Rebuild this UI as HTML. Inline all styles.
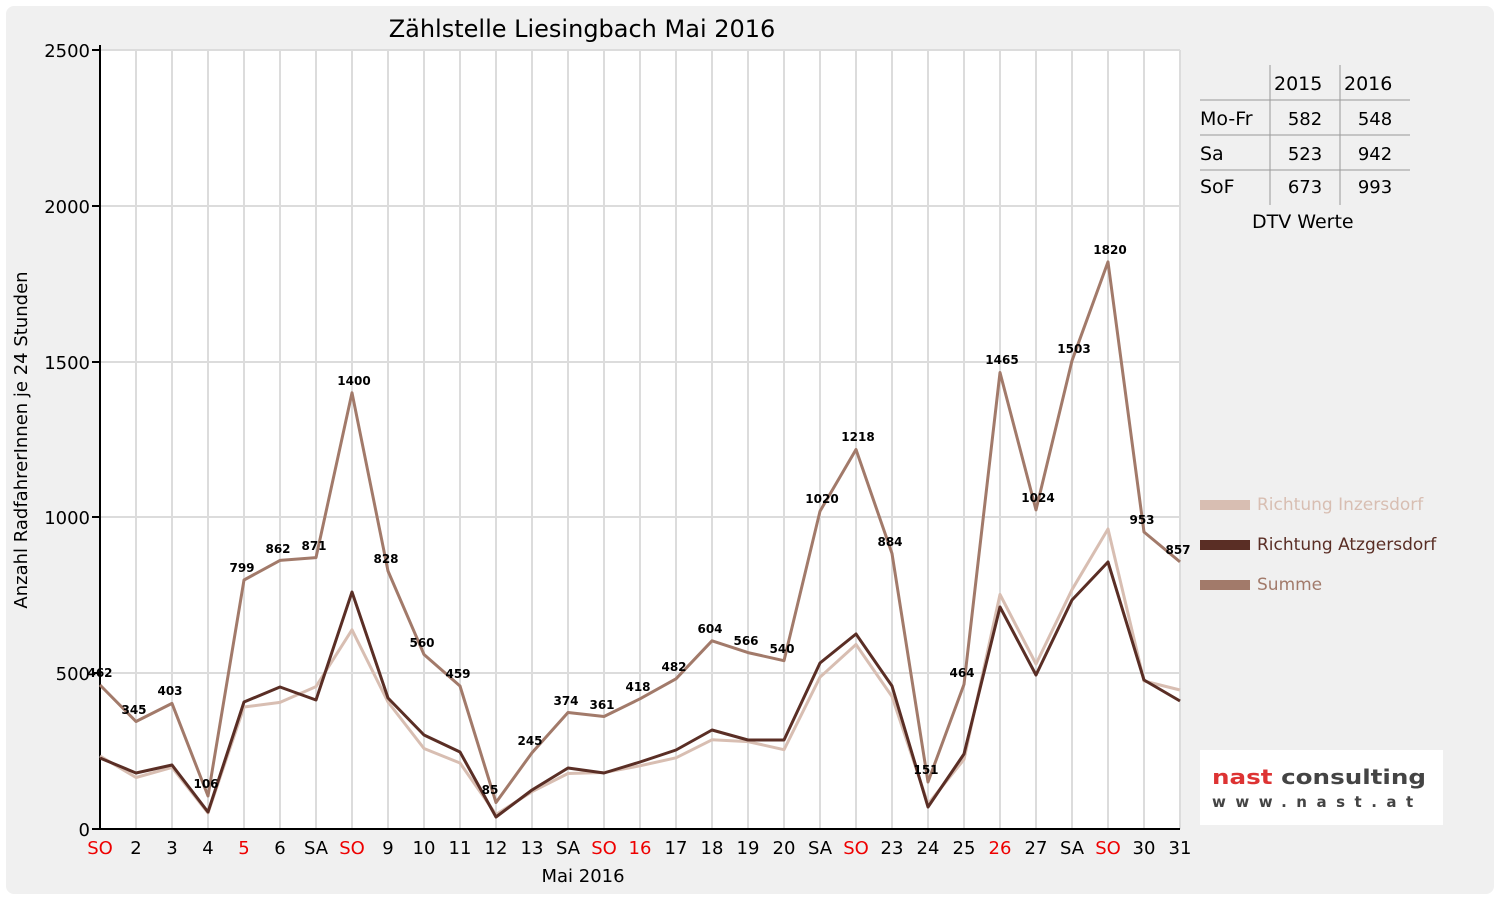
<!DOCTYPE html><html><head><meta charset="utf-8"><style>body{margin:0;background:#fff}svg{display:block}text{font-family:"DejaVu Sans","Liberation Sans",sans-serif}</style></head><body>
<svg width="1500" height="900" viewBox="0 0 1500 900" xmlns="http://www.w3.org/2000/svg">
<rect x="6" y="6" width="1488" height="888" rx="8" fill="#f0f0f0"/>
<rect x="100" y="50" width="1080" height="779" fill="#fff"/>
<g stroke="#dcdcdc" stroke-width="2">
<path d="M100 50H1180M100 206H1180M100 362H1180M100 517H1180M100 673H1180"/>
<path d="M136 50V829M172 50V829M208 50V829M244 50V829M280 50V829M316 50V829M352 50V829M388 50V829M424 50V829M460 50V829M496 50V829M532 50V829M568 50V829M604 50V829M640 50V829M676 50V829M712 50V829M748 50V829M784 50V829M820 50V829M856 50V829M892 50V829M928 50V829M964 50V829M1000 50V829M1036 50V829M1072 50V829M1108 50V829M1144 50V829M1180 50V829"/>
</g>
<g stroke="#000" stroke-width="2" fill="none"><path d="M100 45V829H1180"/>
<path d="M92 50H100M92 206H100M92 362H100M92 517H100M92 673H100M92 829H100" /></g>
<g fill="none" stroke-width="3" stroke-linejoin="round">
<polyline stroke="#d8beb2" points="100,756 136,777.5 172,767.4 208,813 244,707 280,702.4 316,686.6 352,629.8 388,702 424,748.5 460,763 496,814.5 532,791.7 568,773.5 604,772.5 640,765.8 676,757.8 712,739.8 748,741.6 784,749.7 820,677.2 856,644.5 892,696.5 928,804 964,759.4 1000,594.5 1036,664 1072,589.7 1108,529 1144,681 1180,690"/>
<polyline stroke="#5a2e25" points="100,758 136,773 172,765 208,812 244,702 280,687 316,700 352,592 388,698 424,735 460,752 496,817 532,790 568,768 604,773 640,762 676,750 712,730 748,740 784,740 820,663 856,634 892,686 928,807 964,754 1000,607 1036,675 1072,600 1108,562 1144,680 1180,701"/>
<polyline stroke="#a27a6a" points="100,685 136,721.5 172,703.4 208,796 244,580 280,560.4 316,557.6 352,392.8 388,571 424,654.5 460,686 496,802.5 532,752.7 568,712.5 604,716.5 640,698.8 676,678.8 712,640.8 748,652.6 784,660.7 820,511.2 856,449.5 892,553.5 928,782 964,684.4 1000,372.5 1036,509.9 1072,360.7 1108,261.9 1144,532 1180,561.9"/>
</g>
<g font-size="12" font-weight="bold" text-anchor="middle" fill="#000">
<text x="100" y="677">462</text><text x="134" y="714">345</text><text x="170" y="695">403</text><text x="206" y="788">106</text><text x="242" y="572">799</text><text x="278" y="553">862</text><text x="314" y="550">871</text><text x="354" y="385">1400</text><text x="386" y="563">828</text><text x="422" y="647">560</text><text x="458" y="678">459</text><text x="490" y="794">85</text><text x="530" y="745">245</text><text x="566" y="705">374</text><text x="602" y="709">361</text><text x="638" y="691">418</text><text x="674" y="671">482</text><text x="710" y="633">604</text><text x="746" y="645">566</text><text x="782" y="653">540</text><text x="822" y="503">1020</text><text x="858" y="441">1218</text><text x="890" y="546">884</text><text x="926" y="774">151</text><text x="962" y="677">464</text><text x="1002" y="364">1465</text><text x="1038" y="502">1024</text><text x="1074" y="353">1503</text><text x="1110" y="254">1820</text><text x="1142" y="524">953</text><text x="1178" y="554">857</text>
</g>
<g font-size="18" text-anchor="end" fill="#000"><text x="90" y="57">2500</text><text x="90" y="213">2000</text><text x="90" y="369">1500</text><text x="90" y="524">1000</text><text x="90" y="680">500</text><text x="90" y="836">0</text></g>
<g font-size="18" text-anchor="middle" fill="#000">
<text x="100" y="854" fill="#e00">SO</text><text x="136" y="854">2</text><text x="172" y="854">3</text><text x="208" y="854">4</text><text x="244" y="854" fill="#e00">5</text><text x="280" y="854">6</text><text x="316" y="854">SA</text><text x="352" y="854" fill="#e00">SO</text><text x="388" y="854">9</text><text x="424" y="854">10</text><text x="460" y="854">11</text><text x="496" y="854">12</text><text x="532" y="854">13</text><text x="568" y="854">SA</text><text x="604" y="854" fill="#e00">SO</text><text x="640" y="854" fill="#e00">16</text><text x="676" y="854">17</text><text x="712" y="854">18</text><text x="748" y="854">19</text><text x="784" y="854">20</text><text x="820" y="854">SA</text><text x="856" y="854" fill="#e00">SO</text><text x="892" y="854">23</text><text x="928" y="854">24</text><text x="964" y="854">25</text><text x="1000" y="854" fill="#e00">26</text><text x="1036" y="854">27</text><text x="1072" y="854">SA</text><text x="1108" y="854" fill="#e00">SO</text><text x="1144" y="854">30</text><text x="1180" y="854">31</text>
<text x="583" y="882">Mai 2016</text>
<text x="582" y="37" font-size="24">Zählstelle Liesingbach Mai 2016</text>
<text transform="translate(27,440) rotate(-90)" font-size="18">Anzahl RadfahrerInnen je 24 Stunden</text>
</g>
<g stroke="#999" stroke-width="1"><path d="M1270 65V205M1340 65V205M1200 100H1410M1200 135H1410M1200 170H1410"/></g>
<g font-size="19" fill="#000"><text x="1274" y="90">2015</text><text x="1344" y="90">2016</text><text x="1200" y="125">Mo-Fr</text><text x="1200" y="160">Sa</text><text x="1200" y="193">SoF</text><text x="1252" y="228">DTV Werte</text></g>
<g font-size="18" text-anchor="middle"><text x="1305" y="125">582</text><text x="1375" y="125">548</text><text x="1305" y="160">523</text><text x="1375" y="160">942</text><text x="1305" y="193">673</text><text x="1375" y="193">993</text></g>
<rect x="1200" y="500" width="50" height="10" fill="#d8beb2"/><rect x="1200" y="540" width="50" height="10" fill="#5a2e25"/><rect x="1200" y="580" width="50" height="10" fill="#a27a6a"/>
<g font-size="17"><text x="1257" y="510" fill="#d8beb2">Richtung Inzersdorf</text><text x="1257" y="550" fill="#5a2e25">Richtung Atzgersdorf</text><text x="1257" y="590" fill="#a27a6a">Summe</text></g>
<rect x="1200" y="750" width="243" height="75" fill="#fff"/>
<text x="1212" y="784" font-size="20" font-weight="bold" fill="#d33" textLength="214" lengthAdjust="spacingAndGlyphs"><tspan>nast </tspan><tspan fill="#444">consulting</tspan></text>
<text x="1212" y="807" font-size="15" font-weight="bold" fill="#444" letter-spacing="9.5">www.nast.at</text>
</svg></body></html>
